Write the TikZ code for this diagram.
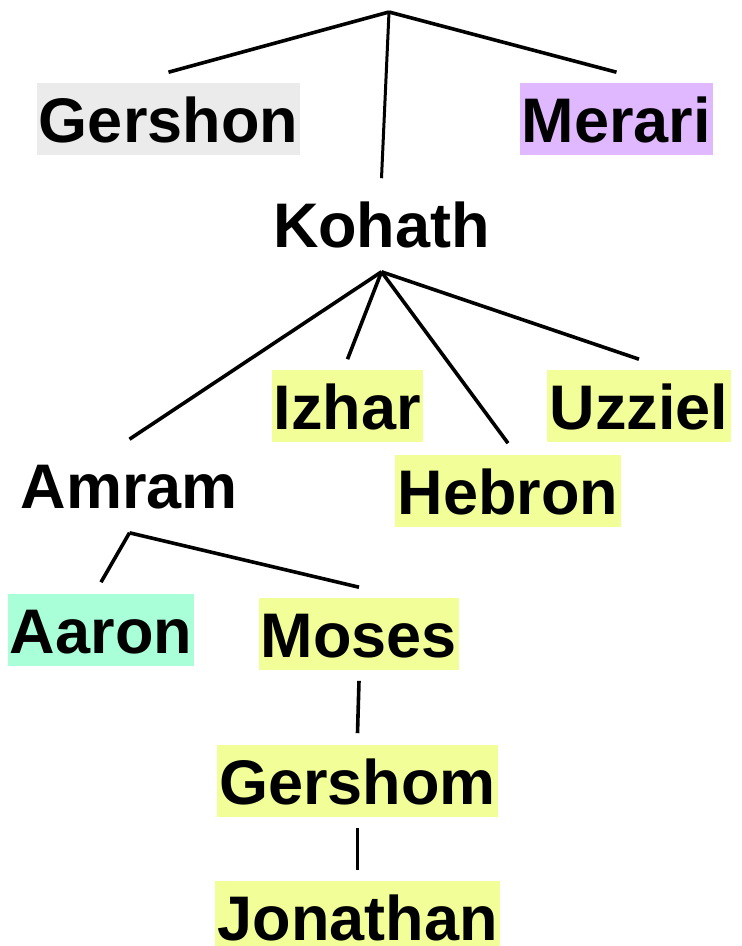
\documentclass[tikz,border=0pt]{standalone}
\usepackage{fontspec}
\setmainfont{Liberation Sans}
\definecolor{greybox}{RGB}{235,235,235}
\definecolor{lilacbox}{RGB}{224,184,255}
\definecolor{mintbox}{RGB}{168,255,216}
\definecolor{lemonbox}{RGB}{242,255,153}
\begin{document}
\begin{tikzpicture}[
       x=1pt,y=-1pt,
       line width=3.6pt,
       member/.style={
         font=\fontsize{63}{70}\selectfont\bfseries,
         inner xsep=2.3pt,
         inner ysep=0pt,
         text height=59pt,
         text depth=13pt
       }
     ]
       \useasboundingbox (0,0) rectangle (742,946);

       \coordinate (levi) at (389,12);

       \node (gershon) at (168.5,119) [member,fill=greybox]{Gershon};
       \node (merari) at (616.5,119) [member,fill=lilacbox]{Merari};
       \node (kohath) at (381.5,224) [member]{Kohath};

       \node (izhar) at (347.5,406) [member,fill=lemonbox]{Izhar};
       \node (uzziel) at (639,406) [member,fill=lemonbox]{Uzziel};
       \node (hebron) at (508,491) [member,fill=lemonbox]{Hebron};
       \node (amram) at (129.5,485) [member]{Amram};

       \node (aaron) at (101,630) [member,fill=mintbox]{Aaron};
       \node (moses) at (359,634) [member,fill=lemonbox]{Moses};
       \node (gershom) at (357.5,781) [member,fill=lemonbox]{Gershom};
       \node (jonathan) at (357.5,917) [member,fill=lemonbox]{Jonathan};

       \coordinate (kohath-fork) at ([yshift=-10pt]kohath.south);
       \coordinate (amram-fork) at ([yshift=-10pt]amram.south);

       \draw (levi) -- ([yshift=9pt]gershon.north);
       \draw[line width=3pt] (levi) -- ([yshift=8pt]kohath.north);
       \draw (levi) -- ([yshift=9pt]merari.north);

       \draw (kohath-fork) -- ([yshift=8pt]amram.north);
       \draw (kohath-fork) -- ([yshift=9pt]izhar.north);
       \draw (kohath-fork) -- ([yshift=10pt]hebron.north);
       \draw (kohath-fork) -- ([yshift=9pt]uzziel.north);

       \draw (amram-fork) -- ([yshift=10pt]aaron.north);
       \draw (amram-fork) -- ([yshift=9pt]moses.north);

       \draw ([yshift=-9pt]moses.south) -- ([yshift=10pt]gershom.north);
       \draw ([yshift=-9pt]gershom.south) -- ([yshift=9pt]jonathan.north);

\end{tikzpicture}
\end{document}
